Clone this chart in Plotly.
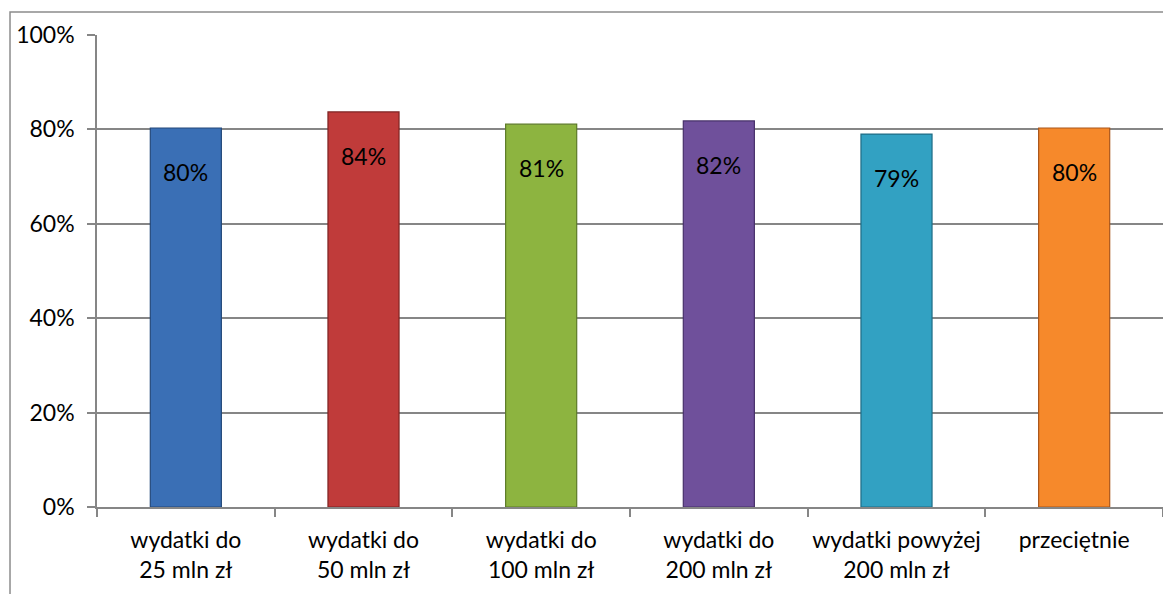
import plotly.graph_objects as go

categories = ["wydatki do<br>25 mln zł", "wydatki do<br>50 mln zł", "wydatki do<br>100 mln zł",
              "wydatki do<br>200 mln zł", "wydatki powyżej<br>200 mln zł", "przeciętnie"]
values = [0.803, 0.837, 0.811, 0.818, 0.790, 0.803]
labels = ["80%", "84%", "81%", "82%", "79%", "80%"]
y_ticks = [0, 0.2, 0.4, 0.6, 0.8, 1.0]

colors = ["#3a6fb5", "#c03b3a", "#8db440", "#6f509b", "#32a1c2", "#f6892b"]
edges = ["#24497a", "#7e2322", "#5c7a27", "#47306a", "#1f6c85", "#a9561a"]

FONT = "Lato, Carlito, sans-serif"

fig = go.Figure()
fig.add_trace(go.Bar(
    x=categories, y=values,
    marker=dict(color=colors, line=dict(color=edges, width=1.2)),
    showlegend=False, hoverinfo="skip",
))

# Excel-style "inside end" labels sit a bit below the bar top
for cat, val, lab in zip(categories, values, labels):
    fig.add_annotation(x=cat, y=val, text=lab, showarrow=False, yshift=-44,
                       font=dict(family=FONT, size=23, color="black"))

# outer chart-area border
fig.add_shape(type="rect", xref="paper", yref="paper", x0=-0.0816, y0=-0.3, x1=1.05, y1=1.0487,
              line=dict(color="#8c8c8c", width=1.5), fillcolor="rgba(0,0,0,0)", layer="below")

# page body has an 8px margin, so the figure is sized to fit inside it
fig.update_layout(
    width=1163, height=586,
    margin=dict(l=89, r=8, t=27, b=87),
    paper_bgcolor="white", plot_bgcolor="white",
    bargap=0.6,
    font=dict(family=FONT, size=23, color="black"),
    xaxis=dict(
        showline=True, linecolor="#868686", linewidth=1.5,
        ticks="outside", tickson="boundaries", ticklen=8, tickcolor="#868686", tickwidth=1.5,
        showgrid=False, tickangle=0, automargin=False, ticklabelstandoff=12,
    ),
    yaxis=dict(
        range=[0, 1.0], tickvals=y_ticks, tickformat=".0%",
        showline=True, linecolor="#868686", linewidth=1.5,
        ticks="outside", ticklen=8, tickcolor="#868686", tickwidth=1.5,
        showgrid=True, gridcolor="#868686", gridwidth=1.5,
        zeroline=False, ticklabelstandoff=8, automargin=False,
    ),
)

fig.write_html("out.html")
